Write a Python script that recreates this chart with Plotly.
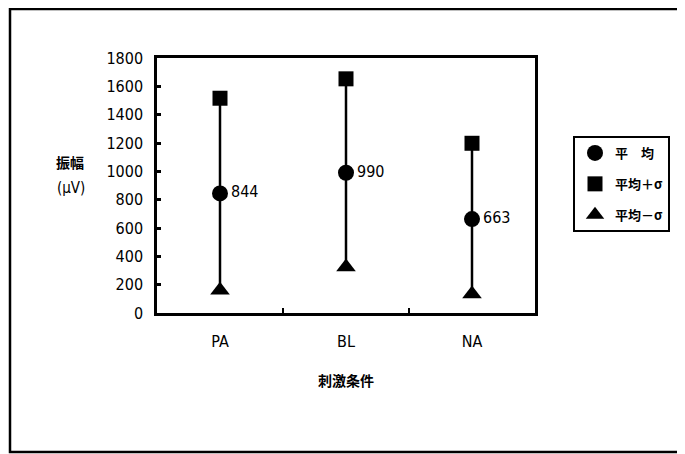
import plotly.graph_objects as go

categories = ["PA", "BL", "NA"]
mean_vals = [844, 990, 663]
plus_vals = [1516, 1653, 1198]
minus_vals = [160, 325, 135]
mean_labels = ["844", "990", "663"]

num_font = "DejaVu Sans Condensed, Liberation Sans Narrow, Arial"
cjk_font = "Noto Sans CJK JP"

fig = go.Figure()

# vertical connecting lines (mean with asymmetric error bars)
fig.add_trace(go.Scatter(
    x=categories, y=mean_vals, mode="markers",
    marker=dict(size=1, color="rgba(0,0,0,0)"),
    error_y=dict(type="data", symmetric=False,
                 array=[p - m for p, m in zip(plus_vals, mean_vals)],
                 arrayminus=[m - n for m, n in zip(mean_vals, minus_vals)],
                 color="black", thickness=2.5, width=0),
    showlegend=False, hoverinfo="skip"))

fig.add_trace(go.Scatter(
    x=categories, y=mean_vals, mode="markers+text", name="平　均",
    legendgroup="a",
    marker=dict(symbol="circle", size=16, color="black"),
    text=mean_labels, textposition="middle right",
    textfont=dict(family=num_font, size=16, color="black")))
fig.add_trace(go.Scatter(
    x=categories, y=plus_vals, mode="markers", name="平均＋σ",
    legendgroup="b",
    marker=dict(symbol="square", size=15, color="black")))
fig.add_trace(go.Scatter(
    x=categories, y=minus_vals, mode="markers", name="平均－σ",
    legendgroup="c",
    marker=dict(symbol="triangle-up", size=17, color="black")))

fig.update_layout(
    width=685, height=454,
    margin=dict(l=149, r=158, t=50, b=149),
    paper_bgcolor="white", plot_bgcolor="white",
    font=dict(family=num_font, color="black"),
    showlegend=True,
    legend=dict(x=(573 - 157) / 378, y=(313 - 136) / 255, xanchor="left", yanchor="top",
                bordercolor="black", borderwidth=2, bgcolor="white",
                font=dict(family=cjk_font, size=13, color="black", weight="bold"),
                itemwidth=30, tracegroupgap=11),
    xaxis=dict(type="category", range=[-0.5, 2.5], showgrid=False,
               showline=True, linecolor="black", linewidth=2.5, mirror=True,
               ticks="inside", tickson="boundaries", ticklen=5, tickwidth=2,
               tickcolor="black", ticklabelstandoff=12,
               tickfont=dict(family=num_font, size=16, color="black"),
               title=dict(text="刺激条件", font=dict(family=cjk_font, size=14, color="black", weight="bold"),
                          standoff=27)),
    yaxis=dict(range=[0, 1800], dtick=200, showgrid=False, zeroline=False,
               showline=True, linecolor="black", linewidth=2.5, mirror=True,
               ticks="inside", ticklen=4, tickwidth=3, tickcolor="black",
               ticklabelstandoff=8,
               tickfont=dict(family=num_font, size=16, color="black")),
    shapes=[dict(type="rect", xref="paper", yref="paper",
                 x0=(10 - 157) / 378, x1=(720 - 157) / 378,
                 y0=(313 - 452) / 255, y1=(313 - 9) / 255,
                 line=dict(color="black", width=2.5))],
    annotations=[
        dict(text="振幅", xref="paper", yref="paper", xanchor="center",
             x=(70 - 157) / 378, y=(313 - 162) / 255, showarrow=False,
             font=dict(family=cjk_font, size=14, color="black", weight="bold")),
        dict(text="(μV)", xref="paper", yref="paper", xanchor="center",
             x=(71 - 157) / 378, y=(313 - 188) / 255, showarrow=False,
             font=dict(family=num_font, size=15, color="black")),
    ],
)

fig.write_html("out.html")
